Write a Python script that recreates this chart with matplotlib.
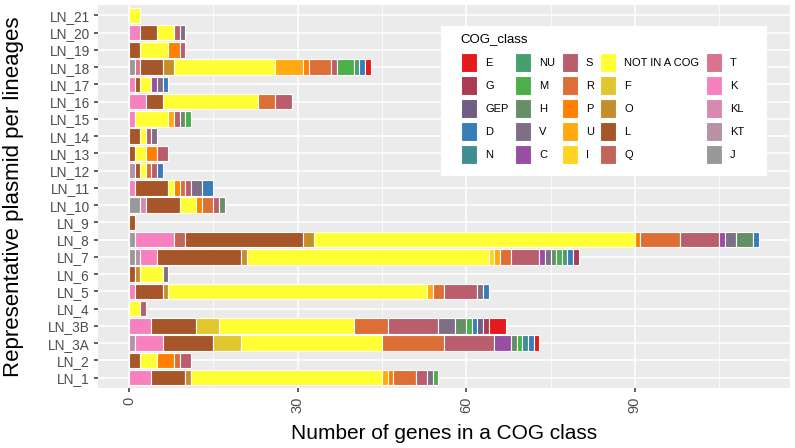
import matplotlib
matplotlib.use("Agg")
import matplotlib.pyplot as plt
from matplotlib.patches import Patch, Rectangle
import numpy as np

plt.rcParams['font.family'] = ['Liberation Sans', 'DejaVu Sans']

# lineages, bottom to top
lineages = ["LN_1", "LN_2", "LN_3A", "LN_3B", "LN_4", "LN_5", "LN_6", "LN_7",
            "LN_8", "LN_9", "LN_10", "LN_11", "LN_12", "LN_13", "LN_14",
            "LN_15", "LN_16", "LN_17", "LN_18", "LN_19", "LN_20", "LN_21"]

# gene counts per COG class, one value per lineage (same order as above)
cog_J   = [0, 0, 0, 0, 0, 0, 0, 1, 1, 0, 2, 0, 0, 0, 0, 0, 0, 0, 1, 0, 0, 0]
cog_KT  = [0, 0, 1, 0, 0, 0, 0, 1, 0, 0, 0, 0, 1, 0, 0, 0, 0, 0, 0, 0, 0, 0]
cog_KL  = [0, 0, 0, 0, 0, 0, 0, 0, 0, 0, 1, 0, 0, 0, 0, 0, 0, 0, 0, 0, 0, 0]
cog_K   = [4, 0, 5, 4, 0, 1, 0, 3, 7, 0, 0, 1, 0, 0, 0, 1, 3, 1, 0, 0, 2, 0]
cog_T   = [0, 0, 0, 0, 0, 0, 0, 0, 0, 0, 0, 0, 0, 0, 0, 0, 0, 0, 1, 0, 0, 0]
cog_Q   = [0, 0, 0, 0, 0, 0, 0, 0, 2, 0, 0, 0, 0, 0, 0, 0, 0, 0, 0, 0, 0, 0]
cog_L   = [6, 2, 9, 8, 0, 5, 1, 15, 21, 1, 6, 6, 1, 1, 2, 0, 3, 1, 4, 2, 3, 0]
cog_O   = [1, 0, 0, 0, 0, 1, 1, 1, 2, 0, 0, 0, 0, 0, 0, 0, 0, 0, 2, 0, 0, 0]
cog_F   = [0, 0, 5, 4, 0, 0, 0, 0, 0, 0, 0, 0, 0, 0, 0, 0, 0, 0, 0, 0, 0, 0]
cog_NOT = [34, 3, 25, 24, 2, 46, 4, 43, 57, 0, 3, 1, 1, 2, 1, 6, 17, 2, 18, 5, 3, 2]
cog_I   = [0, 0, 0, 0, 0, 0, 0, 1, 0, 0, 0, 0, 0, 0, 0, 0, 0, 0, 0, 0, 0, 0]
cog_U   = [1, 0, 0, 0, 0, 1, 0, 1, 0, 0, 0, 0, 0, 0, 0, 1, 0, 0, 5, 0, 0, 0]
cog_P   = [1, 3, 0, 0, 0, 0, 0, 0, 1, 0, 1, 1, 0, 2, 0, 0, 0, 0, 1, 2, 0, 0]
cog_R   = [4, 1, 11, 6, 0, 2, 0, 2, 7, 0, 2, 1, 1, 0, 0, 0, 3, 0, 4, 0, 0, 0]
cog_S   = [2, 2, 9, 9, 1, 6, 0, 5, 7, 0, 1, 1, 1, 2, 1, 1, 3, 0, 1, 1, 1, 0]
cog_C   = [0, 0, 3, 0, 0, 0, 0, 1, 1, 0, 0, 0, 0, 0, 0, 0, 0, 1, 0, 0, 0, 0]
cog_V   = [1, 0, 0, 3, 0, 1, 1, 1, 2, 0, 0, 2, 0, 0, 1, 0, 0, 1, 0, 0, 1, 0]
cog_H   = [0, 0, 1, 2, 0, 0, 0, 1, 3, 0, 1, 0, 0, 0, 0, 1, 0, 0, 0, 0, 0, 0]
cog_M   = [1, 0, 1, 1, 0, 0, 0, 1, 0, 0, 0, 0, 0, 0, 0, 1, 0, 0, 3, 0, 0, 0]
cog_NU  = [0, 0, 0, 0, 0, 0, 0, 1, 0, 0, 0, 0, 0, 0, 0, 0, 0, 0, 1, 0, 0, 0]
cog_N   = [0, 0, 1, 0, 0, 0, 0, 0, 0, 0, 0, 0, 0, 0, 0, 0, 0, 0, 0, 0, 0, 0]
cog_D   = [0, 0, 1, 1, 0, 1, 0, 1, 1, 0, 0, 2, 1, 0, 0, 0, 0, 1, 1, 0, 0, 0]
cog_GEP = [0, 0, 0, 1, 0, 0, 0, 0, 0, 0, 0, 0, 0, 0, 0, 0, 0, 0, 0, 0, 0, 0]
cog_G   = [0, 0, 0, 1, 0, 0, 0, 1, 0, 0, 0, 0, 0, 0, 0, 0, 0, 0, 0, 0, 0, 0]
cog_E   = [0, 0, 1, 3, 0, 0, 0, 0, 0, 0, 0, 0, 0, 0, 0, 0, 0, 0, 1, 0, 0, 0]

# legend order (factor levels)
classes = ["E", "G", "GEP", "D", "N", "NU", "M", "H", "V", "C", "S", "R", "P",
           "U", "I", "NOT IN A COG", "F", "O", "L", "Q", "T", "K", "KL", "KT", "J"]
counts = [cog_E, cog_G, cog_GEP, cog_D, cog_N, cog_NU, cog_M, cog_H, cog_V, cog_C,
          cog_S, cog_R, cog_P, cog_U, cog_I, cog_NOT, cog_F, cog_O, cog_L, cog_Q,
          cog_T, cog_K, cog_KL, cog_KT, cog_J]
colors = ["#e41a1c", "#aa3b50", "#715c84", "#377eb8", "#3e8e93", "#469f6f",
          "#4daf4a", "#668f68", "#7f6e85", "#984ea3", "#ba5e6d", "#dd6f36",
          "#ff7f00", "#ffaa11", "#ffd422", "#ffff33", "#e1c72f", "#c48e2c",
          "#a65628", "#c1645a", "#dc738d", "#f781bf", "#d889b2", "#b891a6",
          "#999999"]

W, H = 795, 448
fig = plt.figure(figsize=(W / 100, H / 100), dpi=100)
# panel: x 97.5..790 px, y 5..388 px
ax = fig.add_axes([97.5 / W, 1 - 388 / H, 692.5 / W, 383 / H])
ax.set_facecolor("#ebebeb")

y = np.arange(len(lineages))
left = np.zeros(len(lineages))
# stacking starts with the last level (J) at zero
for cls, vals, col in zip(classes[::-1], counts[::-1], colors[::-1]):
    vals = np.array(vals, dtype=float)
    m = vals > 0
    ax.barh(y[m], vals[m], left=left[m], height=0.9, color=col,
            edgecolor="white", linewidth=0.8, zorder=3)
    left += vals

ax.set_xlim(-5.6, 117.6)
ax.set_ylim(-0.6, len(lineages) - 0.4)
ax.set_xticks([0, 30, 60, 90])
ax.set_xticks([15, 45, 75, 105], minor=True)
ax.set_yticks(y)
ax.set_yticklabels(lineages)
ax.grid(which="major", color="white", linewidth=1.1, zorder=1)
ax.grid(which="minor", axis="x", color="white", linewidth=0.55, zorder=1)
ax.set_axisbelow(True)
for s in ax.spines.values():
    s.set_visible(False)
ax.tick_params(axis="both", which="major", length=3, width=1.1, color="#333333",
               labelcolor="#4d4d4d", pad=2.5)
ax.tick_params(axis="y", labelsize=9.8)
ax.tick_params(axis="x", labelsize=10.5, pad=3.5)
ax.tick_params(axis="x", which="minor", length=0)
plt.setp(ax.get_xticklabels(), rotation=90, va="top", ha="center")

ax.set_xlabel("Number of genes in a COG class", fontsize=15, va="center")
ax.xaxis.set_label_coords(0.5, (388 - 433) / 383)
ax.set_ylabel("Representative plasmid per lineages", fontsize=16, va="center")
ax.yaxis.set_label_coords((14 - 97.5) / 692.5, 0.5)

# legend box (white, no border) inside the panel
fig.add_artist(Rectangle((441 / W, 1 - 176 / H), 326 / W, 150 / H,
                         transform=fig.transFigure, facecolor="white",
                         edgecolor="none", zorder=4))
fig.text(460 / W, 1 - 39 / H, "COG_class", fontsize=9.5, va="center", ha="left",
         zorder=5)
handles = [Patch(facecolor=c, edgecolor="white", linewidth=0.8) for c in colors]
leg = fig.legend(handles, classes, ncol=5, loc="upper left",
                 bbox_to_anchor=(461 / W, 1 - 53 / H), fontsize=8,
                 frameon=False, handlelength=1.44, handleheight=2.25,
                 handletextpad=0.72, labelspacing=0.36, columnspacing=0.6,
                 borderpad=0, borderaxespad=0)
leg.set_zorder(5)

fig.savefig("out.png", dpi=100)
